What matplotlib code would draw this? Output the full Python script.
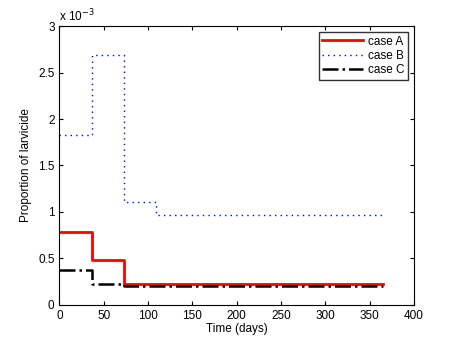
import matplotlib
matplotlib.use("Agg")
import matplotlib.pyplot as plt

# step change times (days) and proportions (x 1e-3)
days = [0, 36.5, 73, 109.5, 365]
case_a = [0.78, 0.48, 0.225, 0.225, 0.225]
case_b = [1.83, 2.69, 1.11, 0.965, 0.965]
case_c = [0.375, 0.225, 0.205, 0.205, 0.205]

plt.rcParams["font.family"] = ["Liberation Sans", "DejaVu Sans"]
plt.rcParams["font.size"] = 8.5

fig = plt.figure(figsize=(4.57, 3.43), dpi=100)
ax = fig.add_axes([0.13, 0.111, 0.776, 0.813])

s = 1e-3
ax.plot(days, [v * s for v in case_a], drawstyle="steps-post", color="red", lw=2, label="case A")
ax.plot(days, [v * s for v in case_b], drawstyle="steps-post", color="blue", lw=1, ls=(0, (1, 3)), label="case B")
ax.plot(days, [v * s for v in case_c], drawstyle="steps-post", color="black", lw=1.8, ls="-.", label="case C")

ax.set_xlim(0, 400)
ax.set_ylim(0, 3e-3)
ax.set_xticks(range(0, 401, 50))
ax.set_yticks([i * 0.5e-3 for i in range(7)])
ax.set_yticklabels(["0", "0.5", "1", "1.5", "2", "2.5", "3"])
ax.text(0, 1.005, r"x 10$^{-3}$", transform=ax.transAxes, fontsize=8.5, va="bottom")
ax.tick_params(direction="in", top=True, right=True, length=3)
ax.set_xlabel("Time (days)", labelpad=1)
ax.set_ylabel("Proportion of larvicide")
ax.legend(loc="upper right", fancybox=False, edgecolor="black", handlelength=3.5,
          borderpad=0.3, labelspacing=0.2, handletextpad=0.4)

fig.savefig("out.png", dpi=100)
